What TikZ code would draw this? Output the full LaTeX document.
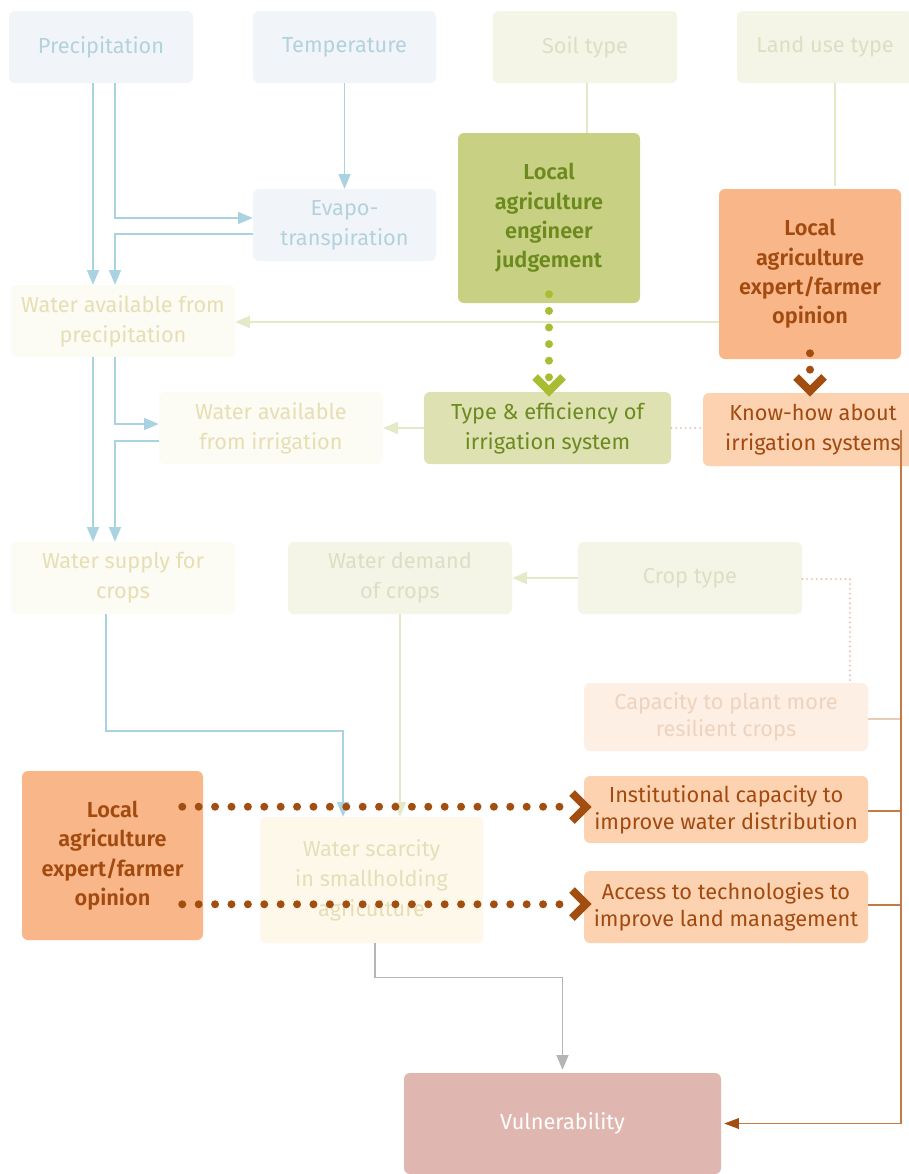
\documentclass[tikz,border=0pt]{standalone}
\usepackage{fontspec}
\setmainfont{Fira Sans}[BoldFont={Fira Sans SemiBold}]
\usetikzlibrary{arrows.meta,calc}
\definecolor{climfill}{HTML}{F1F5F9}
\definecolor{climtext}{HTML}{B3D2DB}
\definecolor{climline}{HTML}{A9D3E0}
\definecolor{creamfill}{HTML}{FCFBF4}
\definecolor{creamtext}{HTML}{E7DFB4}
\definecolor{olivefill}{HTML}{F4F5E7}
\definecolor{olivetext}{HTML}{DCDFC3}
\definecolor{oliveline}{HTML}{E6E9C8}
\definecolor{engfill}{HTML}{C8D183}
\definecolor{engtext}{HTML}{6C8A1E}
\definecolor{typefill}{HTML}{DEE2B3}
\definecolor{gdot}{HTML}{A9BD33}
\definecolor{expfill}{HTML}{F9B688}
\definecolor{exptext}{HTML}{A24A0F}
\definecolor{khfill}{HTML}{FCD2B1}
\definecolor{bdot}{HTML}{A24E10}
\definecolor{capfill}{HTML}{FDEFE4}
\definecolor{captext}{HTML}{EED3BE}
\definecolor{pinkdot}{HTML}{E6C3B2}
\definecolor{brownline}{HTML}{C47A45}
\definecolor{caplink}{HTML}{E9CBB6}
\definecolor{scarfill}{HTML}{FEF8EA}
\definecolor{scartext}{HTML}{E4DFB8}
\definecolor{vulnfill}{HTML}{DFB7B0}
\definecolor{greyline}{HTML}{B5B5B5}
\newcommand\drawbox[7]{%
  \pgfmathsetmacro\mybw{(#4-#2)*0.75}%
  \pgfmathsetmacro\mybh{(#5-#3)*0.75}%
  \node[basebox,#6,minimum width=\mybw pt,minimum height=\mybh pt] (#1) at ({(#2+#4)/2},{(#3+#5)/2}) {#7};}
\tikzset{
  basebox/.style={rounded corners=4.5pt,inner sep=0pt,align=center,font=\fontsize{16.3}{22.5}\selectfont},
  clim/.style={fill=climfill,text=climtext},
  oliv/.style={fill=olivefill,text=olivetext},
  cream/.style={fill=creamfill,text=creamtext},
  engb/.style={fill=engfill,text=engtext,font=\fontsize{16.3}{22}\selectfont\bfseries},
  expb/.style={fill=expfill,text=exptext,font=\fontsize{16.3}{22}\selectfont\bfseries},
  typeb/.style={fill=typefill,text=engtext},
  khb/.style={fill=khfill,text=exptext},
  khbb/.style={fill=khfill,text=exptext,font=\fontsize{16.3}{20}\selectfont},
  capb/.style={fill=capfill,text=captext,font=\fontsize{16.3}{20}\selectfont},
  scar/.style={fill=scarfill,text=scartext},
  vulnb/.style={fill=vulnfill,text=white},
  tip/.style={-{Triangle[length=11pt,width=9pt]}},
  blueln/.style={draw=climline,line width=1.1pt},
  greenln/.style={draw=oliveline,line width=1.1pt},
  greyln/.style={draw=greyline,line width=1.1pt},
  brownln/.style={draw=brownline,line width=1.1pt},
  pinkdots/.style={draw=pinkdot,line width=1.6pt,line cap=round,dash pattern=on 0pt off 3.6pt},
  gdots/.style={draw=gdot,line width=6pt,line cap=round,dash pattern=on 0pt off 12.45pt},
  bdots/.style={draw=bdot,line width=6pt,line cap=round,dash pattern=on 0pt off 12.3pt},
  gchev/.style={draw=gdot,line width=6pt,line join=miter,miter limit=10},
  bchev/.style={draw=bdot,line width=6pt,line join=miter,miter limit=10},
}
\begin{document}
\begin{tikzpicture}[x=0.75pt,y=-0.75pt]
\useasboundingbox[fill=white] (0,0) rectangle (909,1174);
% boxes
\drawbox{prec}{9}{11}{193}{83}{clim}{Precipitation}
\drawbox{temp}{253}{11}{436}{83}{clim}{Temperature}
\drawbox{soil}{493}{11}{677}{83}{oliv}{Soil type}
\drawbox{land}{737}{11}{913}{83}{oliv}{Land use type}
\drawbox{evap}{253}{189}{436}{261}{clim}{Evapo-\\transpiration}
\drawbox{eng}{458}{133}{640}{303}{engb}{Local\\agriculture\\engineer\\judgement}
\drawbox{exp1}{719}{189}{901}{359}{expb}{Local\\agriculture\\expert/farmer\\opinion}
\drawbox{wprec}{11}{285}{235}{357}{cream}{Water available from\\precipitation}
\drawbox{wirr}{159}{392}{383}{464}{cream}{Water available\\from irrigation}
\drawbox{typeeff}{424}{392}{671}{464}{typeb}{Type \& efficiency of\\irrigation system}
\drawbox{knowhow}{703}{393}{923}{466}{khb}{Know-how about\\irrigation systems}
\drawbox{wsup}{11}{542}{235}{614}{cream}{Water supply for\\crops}
\drawbox{wdem}{288}{542}{512}{614}{oliv}{Water demand\\of crops}
\drawbox{crop}{578}{542}{802}{614}{oliv}{Crop type}
\drawbox{cap}{584}{683}{868}{751}{capb}{Capacity to plant more\\resilient crops}
\drawbox{inst}{584}{776}{868}{843}{khbb}{Institutional capacity to\\improve water distribution}
\drawbox{access}{584}{871}{868}{943}{khbb}{Access to technologies to\\improve land management}
\drawbox{exp2}{22}{771}{203}{940}{expb}{Local\\agriculture\\expert/farmer\\opinion}
\drawbox{wscar}{260}{817}{483}{943}{scar}{Water scarcity\\in smallholding\\agriculture}
\drawbox{vuln}{404}{1073}{721}{1174}{vulnb}{Vulnerability}
% blue connectors
\draw[blueln,tip] (prec.south -| 93,0) -- (wprec.north -| 93,0);
\draw[blueln,tip] (prec.south -| 115,0) |- (evap.west |- 0,218);
\draw[blueln,tip] (evap.west |- 0,234) -| (wprec.north -| 115,0);
\draw[blueln,tip] (temp.south) -- (evap.north);
\draw[blueln,tip] (wprec.south -| 93,0) -- (wsup.north -| 93,0);
\draw[blueln,tip] (wprec.south -| 115,0) |- (wirr.west |- 0,424);
\draw[blueln,tip] (wirr.west |- 0,441) -| (wsup.north -| 115,0);
\draw[blueln,tip] (wsup.south -| 106,0) |- (343,731) -- (wscar.north -| 343,0);
% green connectors
\draw[greenln] (soil.south -| 587,0) -- (eng.north -| 587,0);
\draw[greenln] (land.south -| 835,0) -- ($(exp1.north -| 835,0)+(0,-3)$);
\draw[greenln,tip] (exp1.west |- 0,322) -- (wprec.east |- 0,322);
\draw[greenln,tip] (typeeff.west) -- (typeeff.west -| wirr.east);
\draw[greenln,tip] (crop.west) -- (crop.west -| wdem.east);
\draw[greenln,tip] (wdem.south) -- (wscar.north -| wdem.south);
% pink dotted
\draw[pinkdots] (typeeff.east) -- (typeeff.east -| knowhow.west);
\draw[pinkdots] (crop.east |- 0,579) -| (cap.north -| 850,0);
% links to right spine
\draw[draw=caplink,line width=1.1pt] (cap.east |- 0,719) -- (901,719);
\draw[brownln] (inst.east |- 0,811) -- (901,811);
\draw[brownln] (access.east |- 0,905) -- (901,905);
\draw[brownln,-{Triangle[length=11pt,width=8pt,color=bdot]}] (knowhow.center -| 901,0) |- ($(vuln.east)+(3,0)$);
% grey
\draw[greyln,tip] (wscar.south -| 375,0) |- ($(vuln.north)+(0,-95)$) -- ($(vuln.north)+(0,-3)$);
% dotted expert connectors
\draw[gdots] ($(eng.south)+(0,-9)$) -- ++(0,83.3);
\draw[gchev] (535,377) -- (549,391) -- (563,377);
\draw[bdots] ($(exp1.south)+(0,-6)$) -- ++(0,19.2);
\draw[bchev] (796,377) -- (810,391) -- (824,377);
\draw[bdots] ($(exp2.north east)+(-21,36)$) -- ++(377.5,0);
\draw[bchev] (572,793) -- (586,807) -- (572,821);
\draw[bdots] ($(exp2.south east)+(-21,-36)$) -- ++(377.5,0);
\draw[bchev] (572,890) -- (586,904) -- (572,918);
\end{tikzpicture}
\end{document}
